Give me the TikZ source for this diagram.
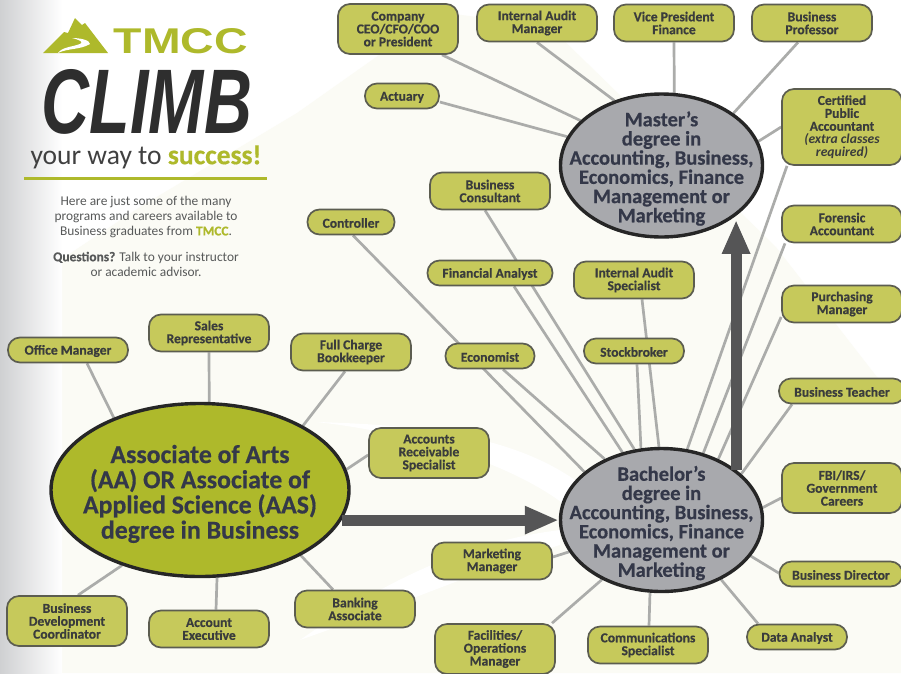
\documentclass[tikz,border=0pt]{standalone}
\usepackage{fontspec}
\usepackage{graphicx}
\usepackage{tikz}
\usetikzlibrary{arrows.meta,backgrounds,shapes.geometric}
\setmainfont{Carlito}[BoldFeatures={FakeBold=0.5}]
\newfontfamily\logofont{Liberation Sans}
\definecolor{tmccgreen}{HTML}{AEB92B}
\definecolor{boxfill}{HTML}{C6C95B}
\definecolor{boxline}{HTML}{5C5D50}
\definecolor{boxtext}{HTML}{3A3C3C}
\definecolor{ovaltext}{HTML}{343849}
\definecolor{ovalgray}{HTML}{A8A9AD}
\definecolor{linkgray}{HTML}{ABACAA}
\definecolor{arrowgray}{HTML}{555556}
\definecolor{cream}{HTML}{FBFBF5}
\definecolor{sidegray}{HTML}{CFD0D2}

\begin{document}
\begin{tikzpicture}[x=1pt,y=-1pt]
\tikzstyle{jobbox}=[draw=boxline,fill=boxfill,line width=1.7pt,rounded corners=12pt,
    minimum width=120pt,minimum height=37pt,inner sep=0pt,align=center,text=boxtext,
    execute at begin node=\rule{0pt}{11.5pt},
    font=\fontsize{13.6}{12.9}\selectfont\bfseries]
\tikzstyle{oneline}=[minimum height=25pt]
\tikzstyle{threeline}=[minimum height=50pt]
\tikzstyle{degree}=[draw=black!85,fill=ovalgray,line width=3.4pt,ellipse,minimum width=202pt,
    minimum height=143pt,inner xsep=-30pt,inner ysep=-20pt,align=center,text=ovaltext,
    font=\fontsize{20.5}{19.2}\selectfont\bfseries]
\tikzstyle{bigarrow}=[draw=arrowgray,line width=11pt,-{Triangle[length=34pt,width=26pt]}]
\tikzstyle{blurb}=[align=center,text=boxtext!85,inner sep=0pt,font=\fontsize{13.4}{14.9}\selectfont]
\useasboundingbox (0,0) rectangle (901,673);

\node [degree] (master) at (661.5,165.5) {\rule{0pt}{21pt}Master's\\degree in\\Accounting, Business,\\Economics, Finance\\Management or\\Marketing};
\node [degree] (bachelor) at (661.5,520) {\rule{0pt}{21pt}Bachelor's\\degree in\\Accounting, Business,\\Economics, Finance\\Management or\\Marketing};
\node [degree,fill=tmccgreen,minimum width=298pt,minimum height=173pt,
    font=\fontsize{25.8}{25.2}\selectfont\bfseries] (associate) at (200,490)
    {\rule{0pt}{26pt}Associate of Arts\\(AA) OR Associate of\\Applied Science (AAS)\\degree in Business};

\node [jobbox,threeline] (company) at (398,29) {Company\\CEO/CFO/COO\\or President};
\node [jobbox] (auditmgr) at (537,23) {Internal Audit\\Manager};
\node [jobbox] (vicepres) at (674,23) {Vice President\\Finance};
\node [jobbox] (professor) at (812,23) {Business\\Professor};
\node [jobbox,oneline,minimum width=74pt] (actuary) at (402,96) {Actuary};
\node [jobbox,minimum height=76pt] (cpa) at (842,127) {Certified\\Public\\Accountant\\{\itshape (extra classes}\\{\itshape required)}};
\node [jobbox] (consultant) at (490,191) {Business\\Consultant};
\node [jobbox,oneline,minimum width=87pt] (controller) at (351,222) {Controller};
\node [jobbox] (forensic) at (842,224) {Forensic\\Accountant};
\node [jobbox,oneline,minimum width=125pt] (analyst) at (490,273) {Financial Analyst};
\node [jobbox] (auditspec) at (634,280) {Internal Audit\\Specialist};
\node [jobbox] (purchasing) at (842,304) {Purchasing\\Manager};
\node [jobbox,oneline,minimum width=100pt] (stockbroker) at (634,351) {Stockbroker};
\node [jobbox,oneline,minimum width=89pt] (economist) at (490,356) {Economist};
\node [jobbox,oneline,minimum width=126pt] (teacher) at (842,391) {Business Teacher};
\node [jobbox,threeline] (fbi) at (842,488) {FBI/IRS/\\Government\\Careers};
\node [jobbox,oneline,minimum width=123pt] (director) at (841,574) {Business Director};
\node [jobbox] (marketing) at (492,561) {Marketing\\Manager};
\node [jobbox,threeline] (facilities) at (495,649) {Facilities/\\Operations\\Manager};
\node [jobbox] (communications) at (648,645) {Communications\\Specialist};
\node [jobbox,oneline,minimum width=100pt] (dataanalyst) at (797,637) {Data Analyst};
\node [jobbox,oneline] (officemgr) at (68,350) {Office Manager};
\node [jobbox] (sales) at (209,333) {Sales\\Representative};
\node [jobbox] (bookkeeper) at (351,352) {Full Charge\\Bookkeeper};
\node [jobbox,threeline] (receivable) at (429,453) {Accounts\\Receivable\\Specialist};
\node [jobbox,threeline] (development) at (67,621) {Business\\Development\\Coordinator};
\node [jobbox] (executive) at (209,629) {Account\\Executive};
\node [jobbox] (banking) at (355,609) {Banking\\Associate};

\node [inner sep=0pt,text=tmccgreen] (tmcc) at (181,41) {\logofont\bfseries\resizebox{134pt}{25pt}{TMCC}};
\node [inner sep=0pt,text=black!82] (climb) at (147,102) {\logofont\bfseries\itshape\resizebox{210pt}{64pt}{CLIMB}};
\node [inner sep=0pt,text=black!75] (slogan) at (146,157) {\resizebox{231pt}{!}{your way to {\bfseries\textcolor{tmccgreen}{success!}}}};
\coordinate (ruleleft) at (24,178);
\coordinate (ruleright) at (267,178);
\node [blurb] (intro) at (146,217) {Here are just some of the many\\programs and careers available to\\Business graduates from {\bfseries\textcolor{tmccgreen}{TMCC}}.};
\node [blurb] (questions) at (146,264) {{\bfseries Questions?} Talk to your instructor\\or academic advisor.};

\draw [tmccgreen,line width=3pt] (ruleleft) -- (ruleright);
\fill [tmccgreen] (43,53) -- (64,32) -- (68,33) -- (75,18) -- (82,25) -- (85,23) -- (108,53) -- cycle;
\fill [white] (58,53) .. controls (68,48) and (80,50) .. (90,44) .. controls (90,40) and (80,38) .. (72,38)
    .. controls (80,40) and (84,42) .. (80,44) .. controls (72,47) and (62,47) .. (58,53) -- cycle;

\begin{pgfonlayer}{background}
\fill [white] (0,0) rectangle (901,673);
\fill [cream] (0,300) -- (140,207) -- (297,113) -- (440,12) -- (550,27) -- (776,247) -- (877,377)
    -- (901,395) -- (901,673) -- (0,673) -- cycle;
\fill [white] (317,422) .. controls (420,425) and (510,435) .. (575,480) -- (565,505)
    .. controls (520,470) and (430,435) .. (317,422) -- cycle;
\fill [white] (560,530) .. controls (480,540) and (400,570) .. (300,640)
    .. controls (400,605) and (480,570) .. (560,545) -- cycle;
\shade [left color=sidegray,right color=sidegray!0] (0,0) rectangle (62,673);
\path [every edge/.append style={draw=linkgray,line width=2.7pt}]
    ([xshift=44pt]company.south) edge (master.151.4)
    ([yshift=-6pt]actuary.east) edge (master.163.5)
    (auditmgr.south) edge (master.126)
    (vicepres.south) edge (master.80)
    ([xshift=-14pt]professor.south) edge (master.36)
    (cpa.west) edge (master.14.8)
    ([xshift=-55pt]cpa.south) edge (bachelor.70.7)
    ([xshift=-57pt]forensic.south) edge (bachelor.58.1)
    ([yshift=-13pt]purchasing.west) edge (bachelor.47.1)
    ([xshift=-50pt]teacher.south) edge (bachelor.30)
    ([yshift=-10pt]fbi.west) edge (bachelor.7.7)
    ([yshift=1pt]director.west) edge (bachelor.-22.6)
    ([xshift=-39pt]dataanalyst.north) edge (bachelor.-45.7)
    ([xshift=1pt]communications.north) edge (bachelor.-99.7)
    ([xshift=57pt]facilities.north) edge (bachelor.-135.7)
    ([yshift=4pt]marketing.east) edge (bachelor.-161.3)
    ([xshift=-5pt]consultant.south) edge (bachelor.111.3)
    ([xshift=24pt]analyst.south) edge (bachelor.120.7)
    ([xshift=2pt]controller.south) edge (bachelor.148.4)
    ([xshift=13pt]economist.south) edge (bachelor.133.4)
    ([xshift=8pt]auditspec.south) edge (bachelor.92.7)
    ([xshift=3pt]stockbroker.south) edge (bachelor.106.4)
    ([xshift=19pt]officemgr.south) edge (associate.140.3)
    (sales.south) edge (associate.84)
    ([xshift=-6pt]bookkeeper.south) edge (associate.32.3)
    ([yshift=-2pt]receivable.west) edge (associate.8.9)
    ([xshift=-22pt]banking.north) edge (associate.-33.7)
    ([xshift=7pt]executive.north) edge (associate.-79.7)
    ([xshift=11pt]development.north) edge (associate.-136.4);
\end{pgfonlayer}

\draw [bigarrow] (associate.-12) -- (associate.-12 -| bachelor.west);
\draw [bigarrow,shorten >=5pt] (bachelor.34) -- (bachelor.34 |- master.-33.5);
\end{tikzpicture}
\end{document}
